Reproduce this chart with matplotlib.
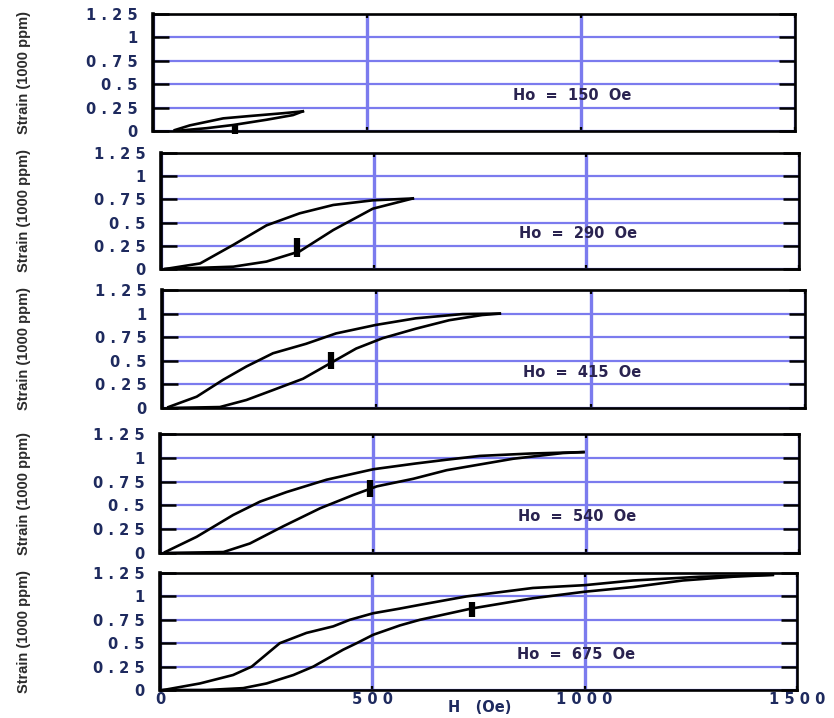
import matplotlib
matplotlib.use("Agg")
import matplotlib.pyplot as plt

# ---------------- data ----------------
ho_labels = ["Ho = 150 Oe", "Ho = 290 Oe", "Ho = 415 Oe", "Ho = 540 Oe", "Ho = 675 Oe"]

# panel 1 (Ho = 150 Oe)
h_up_1 = [51, 86, 164, 226, 304, 350]
s_up_1 = [0.01, 0.06, 0.135, 0.16, 0.19, 0.21]
h_lo_1 = [51, 125, 187, 265, 327, 350]
s_lo_1 = [0.0, 0.03, 0.064, 0.12, 0.17, 0.21]

# panel 2 (Ho = 290 Oe)
h_up_2 = [10, 92, 170, 248, 326, 405, 498, 592]
s_up_2 = [0.0, 0.06, 0.26, 0.47, 0.60, 0.69, 0.74, 0.76]
h_lo_2 = [10, 170, 248, 326, 405, 498, 592]
s_lo_2 = [0.0, 0.025, 0.08, 0.19, 0.42, 0.65, 0.76]

# panel 3 (Ho = 415 Oe)
h_up_3 = [15, 81, 143, 197, 259, 336, 406, 499, 592, 701, 788]
s_up_3 = [0.01, 0.12, 0.30, 0.44, 0.58, 0.68, 0.79, 0.88, 0.95, 0.995, 1.0]
h_lo_3 = [15, 135, 197, 259, 329, 391, 453, 515, 592, 670, 747, 788]
s_lo_3 = [0.0, 0.01, 0.085, 0.19, 0.31, 0.47, 0.63, 0.74, 0.84, 0.93, 0.985, 1.0]

# panel 4 (Ho = 540 Oe)
h_up_4 = [12, 86, 172, 235, 297, 391, 501, 600, 673, 751, 870, 994]
s_up_4 = [0.01, 0.17, 0.40, 0.54, 0.64, 0.77, 0.88, 0.94, 0.98, 1.02, 1.045, 1.06]
h_lo_4 = [12, 149, 211, 289, 376, 454, 509, 595, 673, 829, 946, 994]
s_lo_4 = [0.0, 0.01, 0.10, 0.28, 0.47, 0.61, 0.70, 0.78, 0.87, 0.99, 1.05, 1.06]

# panel 5 (Ho = 675 Oe)
h_up_5 = [8, 94, 172, 216, 282, 345, 408, 447, 502, 565, 612, 722, 878, 1000, 1114, 1271, 1443]
s_up_5 = [0.0, 0.07, 0.16, 0.25, 0.50, 0.61, 0.68, 0.75, 0.82, 0.87, 0.91, 1.0, 1.09, 1.12, 1.17, 1.21, 1.23]
h_lo_5 = [8, 110, 196, 251, 314, 361, 431, 463, 502, 565, 612, 733, 878, 1000, 1114, 1231, 1349, 1443]
s_lo_5 = [0.0, 0.0, 0.02, 0.07, 0.16, 0.25, 0.43, 0.50, 0.59, 0.69, 0.75, 0.87, 0.98, 1.05, 1.10, 1.17, 1.21, 1.23]

# bias-field marker bars (H, strain low, strain high)
marker_h = [191, 319, 395, 493, 734]
marker_lo = [-0.03, 0.13, 0.41, 0.59, 0.78]
marker_hi = [0.08, 0.33, 0.59, 0.77, 0.94]

y_ticks = [0, 0.25, 0.5, 0.75, 1.0, 1.25]
y_tick_labels = ["0", "0 . 2 5", "0 . 5", "0 . 7 5", "1", "1 . 2 5"]
x_ticks = [0, 500, 1000, 1500]
x_tick_labels = ["0", "5 0 0", "1 0 0 0", "1 5 0 0"]

ups = [(h_up_1, s_up_1), (h_up_2, s_up_2), (h_up_3, s_up_3), (h_up_4, s_up_4), (h_up_5, s_up_5)]
los = [(h_lo_1, s_lo_1), (h_lo_2, s_lo_2), (h_lo_3, s_lo_3), (h_lo_4, s_lo_4), (h_lo_5, s_lo_5)]

# ---------------- layout (pixel boxes: left, top, right, bottom) ----------------
W, H = 834, 718
boxes = [(153, 14, 795, 131),
         (161, 153, 799, 269),
         (162, 290, 805, 408),
         (160, 434, 799, 553),
         (160, 573, 797, 690)]

grid_col = "#7b7bee"
tick_col = "#1e2a5e"

fig = plt.figure(figsize=(W / 100, H / 100), dpi=100)

for i, (l, t, r, b) in enumerate(boxes):
    ax = fig.add_axes([l / W, 1 - b / H, (r - l) / W, (b - t) / H])
    ax.set_xlim(0, 1500)
    ax.set_ylim(0, 1.25)
    ax.set_axisbelow(True)
    ax.yaxis.grid(True, color=grid_col, linewidth=1.6)
    ax.xaxis.grid(True, color=grid_col, linewidth=2.4)

    ax.set_yticks(y_ticks)
    ax.set_yticklabels(y_tick_labels, fontsize=10.5, fontweight="bold", color=tick_col,
                       family="DejaVu Sans")
    ax.set_xticks(x_ticks)
    if i == len(boxes) - 1:
        ax.set_xticklabels(x_tick_labels, fontsize=10.5, fontweight="bold", color=tick_col,
                           family="DejaVu Sans")
    else:
        ax.set_xticklabels([])
    ax.tick_params(axis="y", direction="in", length=11.5, width=1.8, color="black",
                   left=True, right=True, pad=11)
    ax.tick_params(axis="x", direction="in", length=3, width=1.6, color="black",
                   top=True, bottom=True, pad=1.5)

    for side, sp in ax.spines.items():
        sp.set_linewidth(1.9)
        sp.set_color("black")
    ax.spines["left"].set_linewidth(2.6)

    hu, su = ups[i]
    hl, sl = los[i]
    ax.plot(hu, su, color="black", linewidth=1.9, solid_joinstyle="round")
    ax.plot(hl, sl, color="black", linewidth=1.9, solid_joinstyle="round")
    ax.plot([marker_h[i], marker_h[i]], [marker_lo[i], marker_hi[i]], color="black",
            linewidth=4.5, solid_capstyle="butt", clip_on=False)

    ax.text(980, 0.38, ho_labels[i].replace(" = ", "  =  ").replace(" Oe", "  Oe"),
            ha="center", va="center", fontsize=10.5, fontweight="bold", color="#2a2350",
            family="DejaVu Sans")

    fig.text(24 / W, 1 - ((t + b) / 2) / H, "Strain (1000 ppm)", rotation=90,
             ha="center", va="center", fontsize=10.5, fontweight="bold", color="#2b2b2b",
             family=["Liberation Sans Narrow", "Liberation Sans", "DejaVu Sans"])

fig.text(480 / W, 1 - 707 / H, "H   (Oe)", ha="center", va="center", fontsize=10.5,
         fontweight="bold", color=tick_col, family="DejaVu Sans")

fig.savefig("out.png", dpi=100)
